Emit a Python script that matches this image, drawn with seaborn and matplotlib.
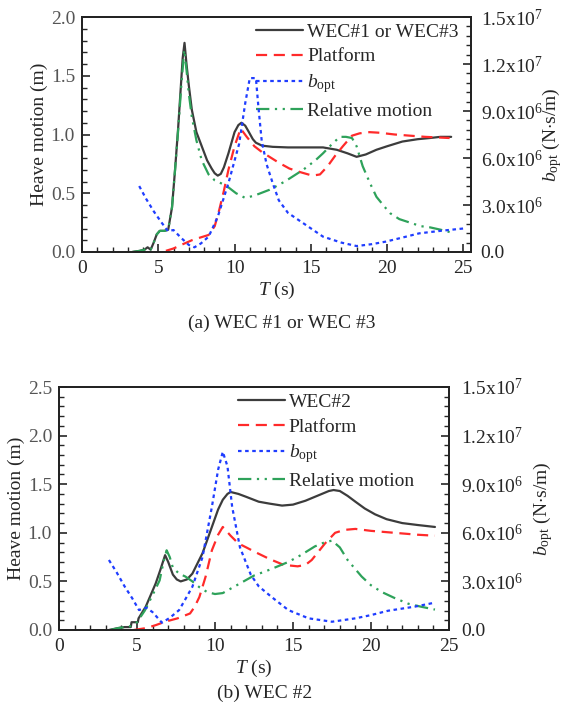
import numpy as np
import pandas as pd
import matplotlib
matplotlib.use("Agg")
import matplotlib.pyplot as plt
from matplotlib.ticker import MultipleLocator, FixedLocator, FixedFormatter
import seaborn as sns

# ---------------- data: (a) WEC #1 or WEC #3 ----------------
a_T_wec = [3.3, 3.8, 4.1, 4.3, 4.5, 4.7, 4.9, 5.1, 5.4, 5.65, 5.9, 6.1, 6.3, 6.5, 6.6, 6.72,
           6.85, 7.0, 7.2, 7.5, 7.85, 8.2, 8.5, 8.7, 8.9, 9.1, 9.3, 9.6, 10.0, 10.25, 10.45, 10.7,
           10.9, 11.2, 11.4, 11.8, 12.5, 13.5, 15.0, 15.8, 16.7, 17.4, 18.0, 18.6, 19.3, 20.0,
           21.0, 22.0, 22.8, 23.5, 24.2]
a_wec = [0.0, 0.01, 0.02, 0.04, 0.02, 0.08, 0.15, 0.18, 0.18, 0.19, 0.38, 0.70, 1.05, 1.45, 1.65, 1.78,
         1.60, 1.42, 1.21, 1.02, 0.90, 0.78, 0.71, 0.67, 0.65, 0.665, 0.72, 0.84, 1.02, 1.08, 1.10, 1.075,
         1.03, 0.96, 0.93, 0.905, 0.895, 0.89, 0.89, 0.89, 0.87, 0.84, 0.81, 0.83, 0.87, 0.90,
         0.94, 0.96, 0.97, 0.98, 0.98]

a_T_plat = [5.5, 6.0, 6.5, 7.2, 7.8, 8.3, 8.7, 9.0, 9.3, 9.6, 10.0, 10.4, 10.8, 11.3, 11.8, 12.9,
            13.6, 14.3, 15.1, 15.6, 16.1, 16.6, 17.1, 17.7, 18.2, 18.85, 19.5, 20.5, 21.5, 22.5, 23.3, 24.1]
a_plat = [0.01, 0.03, 0.06, 0.10, 0.125, 0.145, 0.22, 0.36, 0.52, 0.70, 0.90, 1.05, 0.98, 0.90, 0.85, 0.76,
          0.71, 0.68, 0.65, 0.66, 0.73, 0.82, 0.90, 0.99, 1.01, 1.02, 1.015, 1.0, 0.99, 0.98, 0.975, 0.97]

a_T_b = [3.75, 4.2, 4.7, 5.2, 5.63, 6.0, 6.5, 7.0, 7.37, 7.8, 8.3, 8.9, 9.6, 10.3, 10.7, 11.0,
         11.4, 11.56, 11.78, 12.1, 12.5, 12.9, 13.5, 14.5, 15.8, 17.0, 18.0, 19.0, 19.9, 21.0,
         22.1, 23.5, 25.0]
a_b = [4.21, 3.4, 2.6, 1.9, 1.34, 1.4, 0.9, 0.45, 0.30, 0.55, 0.98, 2.25, 4.4, 6.9, 9.5, 11.1,
       11.1, 9.3, 7.1, 5.6, 4.4, 3.3, 2.5, 1.84, 0.98, 0.6, 0.38, 0.5, 0.66, 0.92,
       1.19, 1.35, 1.5]

a_T_rel = [3.3, 3.8, 4.1, 4.3, 4.5, 4.7, 4.9, 5.1, 5.4, 5.65, 5.9, 6.1, 6.3, 6.5, 6.7, 6.85, 7.0,
           7.2, 7.5, 7.85, 8.3, 8.7, 9.2, 9.6, 10.1, 10.7, 11.3, 12.3, 13.3, 14.5, 15.3, 15.8,
           16.4, 16.9, 17.3, 17.7, 18.0, 18.4, 18.9, 19.3, 19.8, 20.2, 20.8, 21.5, 22.2, 22.8,
           23.5, 24.1]
a_rel = [0.0, 0.01, 0.02, 0.03, 0.02, 0.08, 0.15, 0.18, 0.18, 0.19, 0.38, 0.70, 1.03, 1.40, 1.72, 1.55, 1.35,
         1.15, 0.95, 0.78, 0.66, 0.61, 0.58, 0.55, 0.50, 0.46, 0.48, 0.53, 0.60, 0.70, 0.78, 0.84,
         0.92, 0.98, 0.98, 0.97, 0.90, 0.73, 0.58, 0.47, 0.39, 0.33, 0.28, 0.25, 0.22, 0.21,
         0.19, 0.17]

# ---------------- data: (b) WEC #2 ----------------
b_T_wec = [3.2, 3.8, 4.2, 4.6, 4.65, 5.05, 5.1, 5.56, 6.2, 6.5, 6.8, 7.0, 7.3, 7.55, 7.8, 8.2, 8.55, 9.2,
           9.8, 10.2, 10.5, 10.8, 11.0, 11.5, 12.0, 12.8, 13.5, 14.3, 15.0, 15.8, 16.7, 17.3, 17.6,
           18.0, 18.5, 19.0, 19.6, 20.26, 21.0, 22.0, 23.0, 24.1]
b_wec = [0.0, 0.02, 0.03, 0.03, 0.08, 0.08, 0.12, 0.24, 0.48, 0.62, 0.77, 0.70, 0.57, 0.52, 0.50, 0.52, 0.58, 0.79,
         1.06, 1.24, 1.34, 1.40, 1.42, 1.40, 1.37, 1.32, 1.30, 1.28, 1.29, 1.33, 1.39, 1.43, 1.44,
         1.43, 1.38, 1.32, 1.25, 1.19, 1.14, 1.10, 1.08, 1.06]

b_T_plat = [4.8, 5.6, 6.2, 6.8, 7.6, 8.4, 8.7, 9.0, 9.4, 9.8, 10.2, 10.5, 11.0, 11.5, 12.0, 12.6,
            13.5, 14.4, 15.3, 15.8, 16.2, 16.6, 17.05, 17.7, 18.3, 19.0, 20.0, 21.5, 23.0, 24.1]
b_plat = [0.0, 0.02, 0.05, 0.085, 0.12, 0.17, 0.24, 0.34, 0.55, 0.82, 0.98, 1.06, 0.97, 0.89, 0.85, 0.80,
          0.73, 0.67, 0.655, 0.67, 0.72, 0.80, 0.89, 1.0, 1.03, 1.04, 1.02, 1.0, 0.98, 0.97]

b_T_b = [3.2, 3.7, 4.2, 4.7, 5.13, 5.6, 6.0, 6.6, 7.1, 7.7, 8.1, 8.55, 9.2, 9.8, 10.2, 10.5, 10.8,
         11.1, 11.6, 12.3, 12.8, 13.6, 14.7, 16.0, 17.5, 19.0, 20.0, 21.1, 22.8, 24.1]
b_b = [4.32, 3.55, 2.7, 1.95, 1.23, 1.38, 1.1, 0.45, 0.75, 1.23, 1.9, 2.67, 4.5, 7.6, 9.9, 11.0, 10.1,
       7.6, 5.1, 3.4, 2.7, 2.06, 1.23, 0.72, 0.51, 0.72, 0.92, 1.19, 1.44, 1.69]

b_T_rel = [3.3, 3.8, 4.2, 4.6, 5.0, 5.5, 6.0, 6.45, 6.7, 6.9, 7.1, 7.3, 7.7, 8.1, 8.55, 9.0, 9.5,
           10.0, 10.5, 11.5, 12.5, 13.5, 14.7, 15.5, 16.4, 17.0, 17.5, 18.0, 18.5, 19.4, 20.0,
           20.7, 21.5, 22.4, 23.2, 24.1]
b_rel = [0.0, 0.02, 0.03, 0.04, 0.08, 0.20, 0.36, 0.51, 0.70, 0.82, 0.75, 0.64, 0.58, 0.55, 0.50, 0.44, 0.39,
         0.37, 0.38, 0.47, 0.56, 0.62, 0.70, 0.77, 0.86, 0.90, 0.92, 0.85, 0.72, 0.55, 0.46,
         0.39, 0.33, 0.27, 0.24, 0.21]

labels_a = ["WEC#1 or WEC#3", "Platform", r"$b_{\rm opt}$", "Relative motion"]
labels_b = ["WEC#2", "Platform", r"$b_{\rm opt}$", "Relative motion"]
right_ticks = [0, 3e6, 6e6, 9e6, 1.2e7, 1.5e7]
right_ticklabels = ["0.0", r"3.0x10$^6$", r"6.0x10$^6$", r"9.0x10$^6$", r"1.2x10$^7$", r"1.5x10$^7$"]
captions = ["(a) WEC #1 or WEC #3", "(b) WEC #2"]

# ---------------- style ----------------
sns.set_style("ticks")
plt.rcParams["font.family"] = ["Liberation Serif", "DejaVu Serif"]
plt.rcParams["mathtext.fontset"] = "custom"
plt.rcParams["mathtext.rm"] = "Liberation Serif"
plt.rcParams["mathtext.it"] = "Liberation Serif:italic"
plt.rcParams["mathtext.bf"] = "Liberation Serif:bold"
FS = 14

C_BLACK = "#3c3c3c"
C_RED = "#ff2a2a"
C_BLUE = "#1f3dff"
C_GREEN = "#2ea25a"
LS_PLAT = (0, (5, 3))
LS_B = (0, (1.6, 1.6))
LS_REL = (0, (6, 2.5, 1, 2.5, 1, 2.5))

fig = plt.figure(figsize=(5.64, 7.07), dpi=100)
ax_a = fig.add_axes([82 / 564, 1 - 252 / 707, 389 / 564, 235 / 707])
ax_b = fig.add_axes([59 / 564, 1 - 630 / 707, 390 / 564, 243 / 707])


def draw(ax, T_wec, wec, T_plat, plat, T_b, bb, T_rel, rel, labels, ylim, xmax, leg_anchor, cap, cap_y,
         ylab_pad, rpad):
    ax2 = ax.twinx()
    sns.lineplot(x=T_wec, y=wec, ax=ax, color=C_BLACK, lw=1.6, label=labels[0], legend=False)
    sns.lineplot(x=T_plat, y=plat, ax=ax, color=C_RED, lw=1.6, linestyle=LS_PLAT, label=labels[1], legend=False)
    sns.lineplot(x=T_b, y=np.array(bb) * 1e6, ax=ax2, color=C_BLUE, lw=1.6, linestyle=LS_B,
                 label=labels[2], legend=False)
    sns.lineplot(x=T_rel, y=rel, ax=ax, color=C_GREEN, lw=1.6, linestyle=LS_REL, label=labels[3], legend=False)

    ax.set_xlim(0, xmax)
    ax.set_ylim(*ylim)
    ax2.set_ylim(0, 1.5e7)
    ax.xaxis.set_major_locator(MultipleLocator(5))
    ax.xaxis.set_minor_locator(MultipleLocator(1))
    ax.yaxis.set_major_locator(MultipleLocator(0.5))
    ax.yaxis.set_minor_locator(MultipleLocator(0.1))
    ax.yaxis.set_major_formatter(matplotlib.ticker.FormatStrFormatter("%.1f"))
    ax2.yaxis.set_major_locator(FixedLocator(right_ticks))
    ax2.yaxis.set_major_formatter(FixedFormatter(right_ticklabels))
    ax2.yaxis.set_minor_locator(MultipleLocator(6e5))

    ax.tick_params(axis="both", which="major", direction="in", length=6, width=1.2, labelsize=FS)
    ax.tick_params(axis="both", which="minor", direction="in", length=3.5, width=1.0)
    ax.tick_params(axis="x", top=False, which="both", pad=6)
    ax.tick_params(axis="y", right=False, which="both", labelcolor="#555555", pad=5)
    ax2.tick_params(axis="y", which="major", direction="in", length=6, width=1.2, labelsize=FS, pad=rpad)
    ax2.tick_params(axis="y", which="minor", direction="in", length=3.5, width=1.0)
    for s in list(ax.spines.values()) + list(ax2.spines.values()):
        s.set_linewidth(1.3)
        s.set_color("#222222")
        s.set_visible(True)

    ax.set_xlabel(r"$T$ (s)", fontsize=FS, labelpad=2)
    ax.set_ylabel("Heave motion (m)", fontsize=FS, labelpad=2)
    ax2.set_ylabel(r"$b_{\rm opt}$ (N$\cdot$s/m)", fontsize=FS, labelpad=ylab_pad)

    h1, l1 = ax.get_legend_handles_labels()
    h2, l2 = ax2.get_legend_handles_labels()
    hd = dict(zip(l1 + l2, h1 + h2))
    ax.legend([hd[l] for l in labels], labels, loc="upper right", bbox_to_anchor=leg_anchor,
              frameon=False, fontsize=FS, handlelength=2.4, handletextpad=0.2,
              labelspacing=0.36, borderpad=0.2, borderaxespad=0)
    fig.text(cap[0], cap_y, cap[1], ha="center", va="center", fontsize=FS)
    return ax2


draw(ax_a, a_T_wec, a_wec, a_T_plat, a_plat, a_T_b, a_b, a_T_rel, a_rel, labels_a,
     (0, 2.0), 25.5, (0.978, 0.99), (0.50, captions[0]), 1 - 323 / 707, -2, 7)
draw(ax_b, b_T_wec, b_wec, b_T_plat, b_plat, b_T_b, b_b, b_T_rel, b_rel, labels_b,
     (0, 2.5), 25, (0.92, 0.99), (0.47, captions[1]), 1 - 693 / 707, 5, 9)

fig.savefig("out.png", dpi=100)
